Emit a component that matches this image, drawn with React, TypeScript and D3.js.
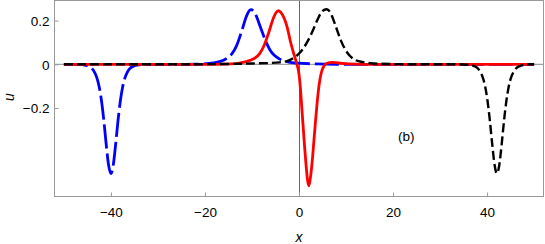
import { useEffect, useRef } from 'react';
import * as d3 from 'd3';

// values, [x, u]
const blueCurve: [number, number][] = [
	[-50, 0], [-47, 0], [-46, -0.002], [-45, -0.007], [-44, -0.02], [-43.5, -0.036],
	[-43, -0.061], [-42.5, -0.103], [-42, -0.168], [-41.5, -0.259], [-41, -0.367],
	[-40.5, -0.461], [-40, -0.5], [-39.5, -0.461], [-39, -0.367], [-38.5, -0.259],
	[-38, -0.168], [-37.5, -0.103], [-37, -0.061], [-36.5, -0.036], [-36, -0.02],
	[-35, -0.007], [-34, -0.002], [-32, 0], [-26, 0], [-22, 0.001], [-20.2, 0.002],
	[-18.2, 0.006], [-16.2, 0.017], [-15.2, 0.03], [-14.2, 0.05], [-13.2, 0.089],
	[-12.2, 0.151], [-11.2, 0.219], [-10.7, 0.242], [-10.2, 0.25], [-9.7, 0.244],
	[-9.2, 0.226], [-8.2, 0.17], [-7.2, 0.112], [-6.2, 0.067], [-5.2, 0.04],
	[-4.2, 0.025], [-2.2, 0.01], [0, 0.005], [3, 0.002], [8, 0], [50, 0],
];

const redCurve: [number, number][] = [
	[-50, 0], [-20, 0], [-16, 0.001], [-14.4, 0.002], [-12.4, 0.007], [-10.4, 0.018],
	[-9.4, 0.028], [-8.4, 0.048], [-7.4, 0.087], [-6.4, 0.148], [-5.4, 0.214],
	[-4.9, 0.236], [-4.4, 0.245], [-3.9, 0.238], [-3.4, 0.222], [-3, 0.203],
	[-2.4, 0.16], [-1.9, 0.111], [-1.2, 0.055], [-0.6, 0.012], [0, -0.045],
	[0.3, -0.11], [0.6, -0.2], [0.9, -0.29], [1.2, -0.38], [1.5, -0.46], [1.8, -0.527],
	[2.1, -0.556], [2.45, -0.515], [2.8, -0.446], [3.15, -0.355], [3.5, -0.263],
	[3.8, -0.19], [4.1, -0.125], [4.45, -0.07], [4.8, -0.034], [5.3, -0.008],
	[5.9, 0.005], [7, 0.009], [8.5, 0.006], [10.5, 0.002], [14, 0], [50, 0],
];

const blackCurve: [number, number][] = [
	[-50, 0], [-25, 0], [-18, 0.001], [-14, 0.002], [-10, 0.004], [-6.15, 0.006],
	[-4.15, 0.009], [-2.15, 0.018], [-1.15, 0.029], [-0.15, 0.046], [0.85, 0.071],
	[1.85, 0.106], [2.85, 0.15], [3.85, 0.2], [4.85, 0.24], [5.35, 0.249], [5.85, 0.252],
	[6.35, 0.246], [6.85, 0.228], [7.85, 0.172], [8.85, 0.112], [9.85, 0.067],
	[10.85, 0.038], [11.85, 0.021], [13.85, 0.009], [15.85, 0.004], [20, 0.001],
	[26, 0], [34, 0], [35, -0.001], [36.1, -0.002], [37.1, -0.007], [38.1, -0.02],
	[38.6, -0.036], [39.1, -0.061], [39.6, -0.103], [40.1, -0.168], [40.6, -0.259],
	[41.1, -0.367], [41.6, -0.461], [42.1, -0.5], [42.6, -0.461], [43.1, -0.367],
	[43.6, -0.259], [44.1, -0.168], [44.6, -0.103], [45.1, -0.061], [45.6, -0.036],
	[46.1, -0.02], [47.1, -0.007], [48.1, -0.002], [49, 0], [50, 0],
];

const xTicks = [-40, -20, 0, 20, 40];
const yTicks = [0.2, 0, -0.2];
const xDomain: [number, number] = [-52, 52];
const yDomain: [number, number] = [-0.605, 0.292];

const seriesStyle = [
	{ data: blueCurve, color: '#0000ff', width: 2.8, dash: '24,5' },
	{ data: redCurve, color: '#ff0000', width: 2.8, dash: null },
	{ data: blackCurve, color: '#000000', width: 2.4, dash: '9,4' },
];

export default function App() {
	const svgRef = useRef<SVGSVGElement>(null);
	const width = 545;
	const height = 244;
	const plot = { left: 54.5, right: 543.5, top: 0.5, bottom: 196.5 };
	const font = '"Liberation Sans", Arial, sans-serif';

	useEffect(() => {
		if (!svgRef.current) return;
		const svg = d3.select(svgRef.current);
		svg.selectAll('*').remove();

		const xScale = d3.scaleLinear().domain(xDomain).range([plot.left, plot.right]);
		const yScale = d3.scaleLinear().domain(yDomain).range([plot.bottom, plot.top]);

		svg.append('rect')
			.attr('width', width)
			.attr('height', height)
			.attr('fill', '#ffffff');

		// axes through the origin
		svg.append('line')
			.attr('x1', plot.left)
			.attr('x2', plot.right)
			.attr('y1', yScale(0))
			.attr('y2', yScale(0))
			.attr('stroke', '#8a8a8a')
			.attr('stroke-width', 1);

		svg.append('line')
			.attr('x1', Math.round(xScale(0)) + 0.5)
			.attr('x2', Math.round(xScale(0)) + 0.5)
			.attr('y1', plot.top)
			.attr('y2', plot.bottom)
			.attr('stroke', '#666666')
			.attr('stroke-width', 1);

		const line = d3
			.line<[number, number]>()
			.x((d) => xScale(d[0]))
			.y((d) => yScale(d[1]))
			.curve(d3.curveMonotoneX);

		seriesStyle.forEach((s) => {
			const path = svg
				.append('path')
				.datum(s.data)
				.attr('fill', 'none')
				.attr('stroke', s.color)
				.attr('stroke-width', s.width)
				.attr('stroke-linejoin', 'round')
				.attr('d', line);
			if (s.dash) path.attr('stroke-dasharray', s.dash);
		});

		// frame
		svg.append('rect')
			.attr('x', plot.left)
			.attr('y', plot.top)
			.attr('width', plot.right - plot.left)
			.attr('height', plot.bottom - plot.top)
			.attr('fill', 'none')
			.attr('stroke', '#999999')
			.attr('stroke-width', 1);

		const xAxis = svg
			.append('g')
			.attr('transform', `translate(0,${plot.bottom})`)
			.call(
				d3
					.axisBottom(xScale)
					.tickValues(xTicks)
					.tickSizeInner(-4)
					.tickSizeOuter(0)
					.tickPadding(10)
					.tickFormat((d) => d3.format('d')(d as number).replace('-', '\u2212')),
			);
		xAxis.select('.domain').remove();
		xAxis.selectAll('line').attr('stroke', '#999999');
		xAxis.selectAll('text')
			.attr('fill', '#000')
			.attr('font-family', font)
			.attr('font-size', 13.5)
			.attr('y', 20)
			.attr('dy', 0);

		const yAxis = svg
			.append('g')
			.attr('transform', `translate(${plot.left},0)`)
			.call(
				d3
					.axisLeft(yScale)
					.tickValues(yTicks)
					.tickSizeInner(-4)
					.tickSizeOuter(0)
					.tickPadding(5)
					.tickFormat((d) => ((d as number) === 0 ? '0' : d3.format('.1f')(d as number).replace('-', '\u2212'))),
			);
		yAxis.select('.domain').remove();
		yAxis.selectAll('line').attr('stroke', '#999999');
		yAxis.selectAll('text')
			.attr('fill', '#000')
			.attr('font-family', font)
			.attr('font-size', 13.5)
			.attr('x', -5)
			.attr('dy', '0.35em');

		svg.append('text')
			.attr('x', xScale(0))
			.attr('y', 242)
			.attr('text-anchor', 'middle')
			.attr('font-family', font)
			.attr('font-style', 'italic')
			.attr('font-size', 14)
			.text('x');

		svg.append('text')
			.attr('transform', `translate(13.5,${97}) rotate(-90)`)
			.attr('text-anchor', 'middle')
			.attr('font-family', font)
			.attr('font-style', 'italic')
			.attr('font-size', 14)
			.text('u');

		svg.append('text')
			.attr('x', xScale(22.8))
			.attr('y', yScale(-0.33))
			.attr('dy', '0.35em')
			.attr('text-anchor', 'middle')
			.attr('font-family', font)
			.attr('font-size', 13.5)
			.text('(b)');
	}, []);

	return (
		<svg
			ref={svgRef}
			width={width}
			height={height}
			style={{ position: 'absolute', left: 0, top: 0 }}
		></svg>
	);
}
